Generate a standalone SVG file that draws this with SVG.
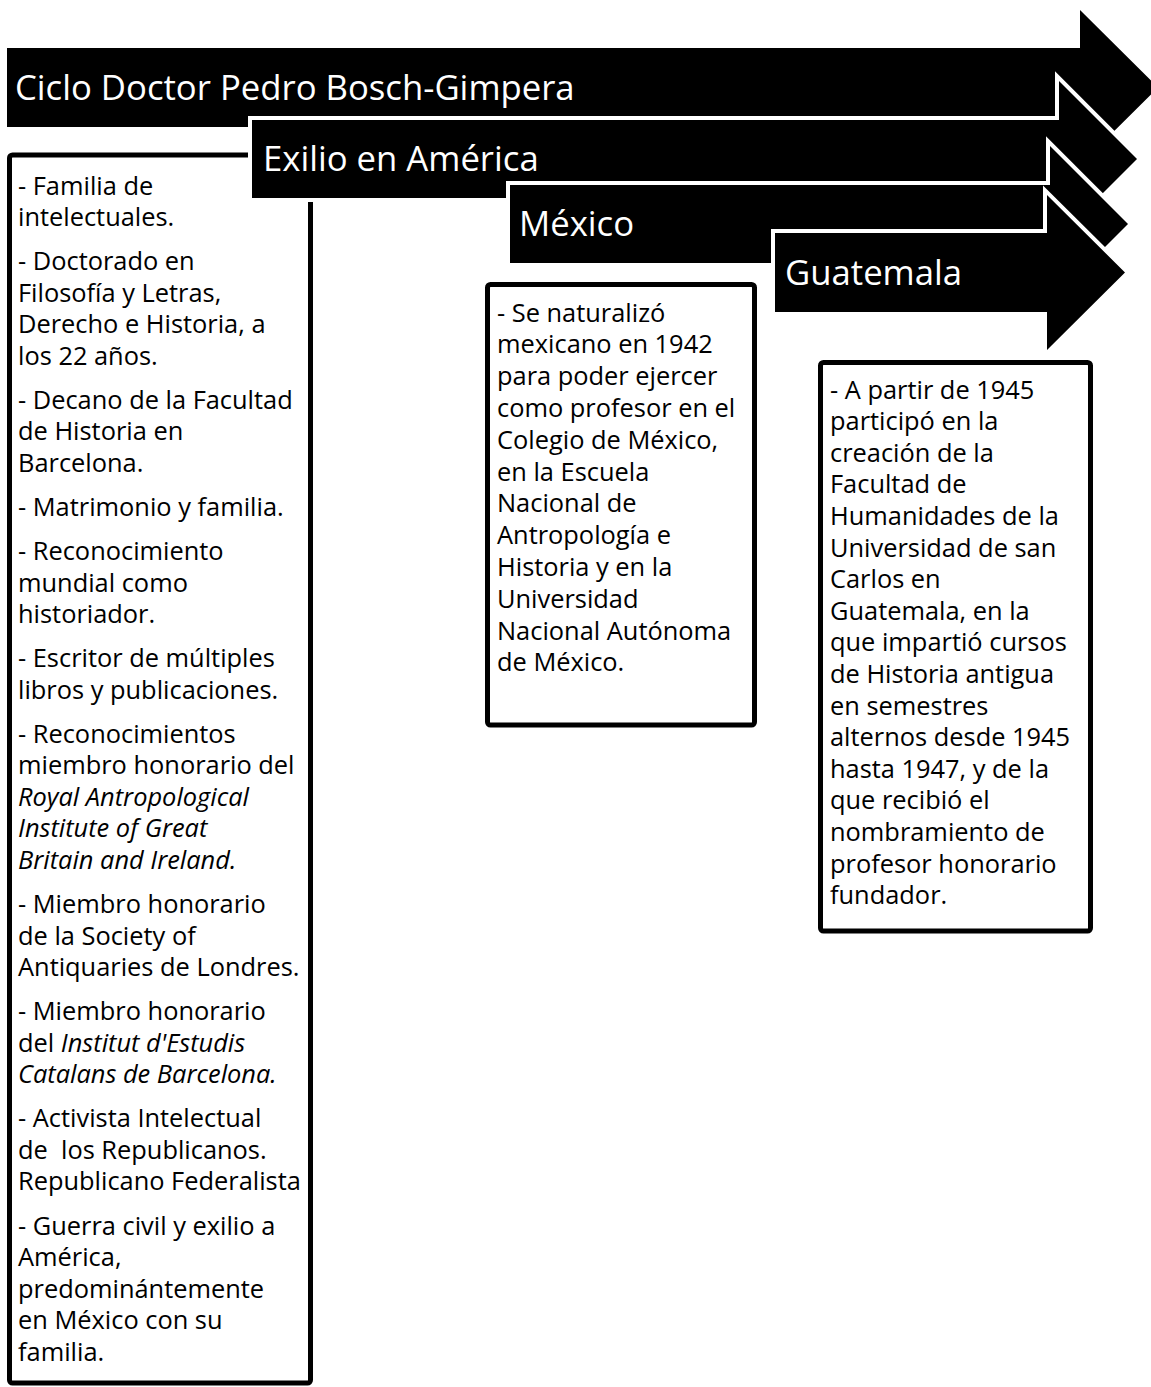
<svg xmlns="http://www.w3.org/2000/svg" width="1151" height="1387" viewBox="0 0 1151 1387">
<style>
.arrow{fill:#000;stroke:#fff;stroke-width:8;stroke-linejoin:miter;paint-order:stroke}
.box{fill:#fff;stroke:#000;stroke-width:5}
.title{font-family:"Open Sans","Noto Sans",sans-serif;font-size:34.7px;fill:#fff}
.body{font-family:"Open Sans","Noto Sans",sans-serif;font-size:25.4px;fill:#000}
.it{font-style:italic}
</style>
<rect width="1151" height="1387" fill="#fff"/>
<g id="arrow-ciclo">
<polygon class="arrow" points="7,48 1080,48 1080,10 1158,87.5 1080,165 1080,127 7,127"/>
<text class="title" x="15" y="100">Ciclo Doctor Pedro Bosch-Gimpera</text>
</g>
<g id="box-ciclo">
<rect class="box" x="9.5" y="155" width="301" height="1228" rx="3"/>
<text class="body">
<tspan x="18" y="194.5">- Familia de</tspan>
<tspan x="18" y="226.1">intelectuales.</tspan>
<tspan x="18" y="270.1">- Doctorado en</tspan>
<tspan x="18" y="301.7">Filosofía y Letras,</tspan>
<tspan x="18" y="333.2">Derecho e Historia, a</tspan>
<tspan x="18" y="364.8">los 22 años.</tspan>
<tspan x="18" y="408.8">- Decano de la Facultad</tspan>
<tspan x="18" y="440.4">de Historia en</tspan>
<tspan x="18" y="471.9">Barcelona.</tspan>
<tspan x="18" y="516">- Matrimonio y familia.</tspan>
<tspan x="18" y="560">- Reconocimiento</tspan>
<tspan x="18" y="591.6">mundial como</tspan>
<tspan x="18" y="623.1">historiador.</tspan>
<tspan x="18" y="667.2">- Escritor de múltiples</tspan>
<tspan x="18" y="698.7">libros y publicaciones.</tspan>
<tspan x="18" y="742.8">- Reconocimientos</tspan>
<tspan x="18" y="774.3">miembro honorario del</tspan>
<tspan x="18" y="805.9" class="it">Royal Antropological</tspan>
<tspan x="18" y="837.4" class="it">Institute of Great</tspan>
<tspan x="18" y="869" class="it">Britain and Ireland.</tspan>
<tspan x="18" y="913">- Miembro honorario</tspan>
<tspan x="18" y="944.6">de la Society of</tspan>
<tspan x="18" y="976.1">Antiquaries de Londres.</tspan>
<tspan x="18" y="1020.2">- Miembro honorario</tspan>
<tspan x="18" y="1051.7">del <tspan class="it">Institut d'Estudis</tspan></tspan>
<tspan x="18" y="1083.3" class="it">Catalans de Barcelona.</tspan>
<tspan x="18" y="1127.3">- Activista Intelectual</tspan>
<tspan x="18" y="1158.9" style="white-space:pre">de  los Republicanos.</tspan>
<tspan x="18" y="1190.4">Republicano Federalista</tspan>
<tspan x="18" y="1234.5">- Guerra civil y exilio a</tspan>
<tspan x="18" y="1266">América,</tspan>
<tspan x="18" y="1297.6">predominántemente</tspan>
<tspan x="18" y="1329.1">en México con su</tspan>
<tspan x="18" y="1360.7">familia.</tspan>
</text>
</g>
<g id="arrow-exilio">
<polygon class="arrow" points="252,120 1059,120 1059,81 1137,159 1059,237 1059,198 252,198"/>
<text class="title" x="263" y="171">Exilio en América</text>
</g>
<g id="arrow-mexico">
<polygon class="arrow" points="510,185 1050,185 1050,146 1128,224 1050,302 1050,263 510,263"/>
<text class="title" x="519" y="236">México</text>
</g>
<g id="arrow-guatemala">
<polygon class="arrow" points="775,233 1047,233 1047,195 1125,272.5 1047,350 1047,312 775,312"/>
<text class="title" x="785" y="285">Guatemala</text>
</g>
<g id="box-mexico">
<rect class="box" x="487.5" y="284.5" width="267" height="440.5" rx="3"/>
<text class="body">
<tspan x="497" y="321.5">- Se naturalizó</tspan>
<tspan x="497" y="353.3">mexicano en 1942</tspan>
<tspan x="497" y="385.1">para poder ejercer</tspan>
<tspan x="497" y="416.9">como profesor en el</tspan>
<tspan x="497" y="448.7">Colegio de México,</tspan>
<tspan x="497" y="480.5">en la Escuela</tspan>
<tspan x="497" y="512.3">Nacional de</tspan>
<tspan x="497" y="544.1">Antropología e</tspan>
<tspan x="497" y="575.9">Historia y en la</tspan>
<tspan x="497" y="607.7">Universidad</tspan>
<tspan x="497" y="639.5">Nacional Autónoma</tspan>
<tspan x="497" y="671.3">de México.</tspan>
</text>
</g>
<g id="box-guatemala">
<rect class="box" x="820.5" y="362.5" width="270" height="568.5" rx="3"/>
<text class="body">
<tspan x="830" y="398.5">- A partir de 1945</tspan>
<tspan x="830" y="430.1">participó en la</tspan>
<tspan x="830" y="461.7">creación de la</tspan>
<tspan x="830" y="493.3">Facultad de</tspan>
<tspan x="830" y="524.9">Humanidades de la</tspan>
<tspan x="830" y="556.5">Universidad de san</tspan>
<tspan x="830" y="588.1">Carlos en</tspan>
<tspan x="830" y="619.7">Guatemala, en la</tspan>
<tspan x="830" y="651.3">que impartió cursos</tspan>
<tspan x="830" y="682.9">de Historia antigua</tspan>
<tspan x="830" y="714.5">en semestres</tspan>
<tspan x="830" y="746.1">alternos desde 1945</tspan>
<tspan x="830" y="777.7">hasta 1947, y de la</tspan>
<tspan x="830" y="809.3">que recibió el</tspan>
<tspan x="830" y="840.9">nombramiento de</tspan>
<tspan x="830" y="872.5">profesor honorario</tspan>
<tspan x="830" y="904.1">fundador.</tspan>
</text>
</g>
<g id="connectors"/>
</svg>
